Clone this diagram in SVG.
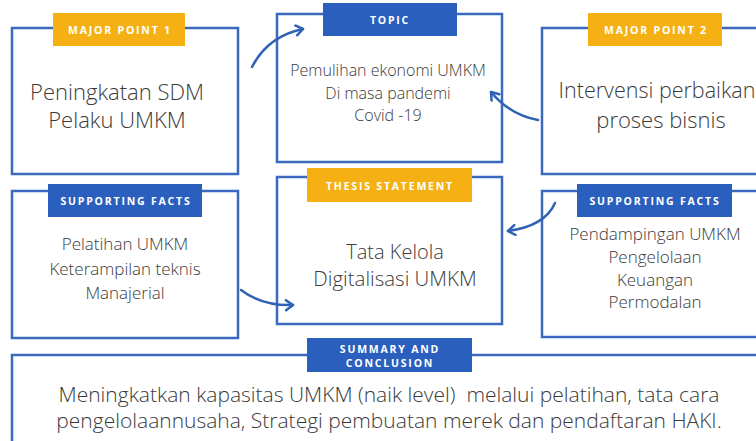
<svg xmlns="http://www.w3.org/2000/svg" width="756" height="441" viewBox="0 0 756 441">
<style>
.box{fill:#fff;stroke:#3a69bd;stroke-width:2.5}
.lb{fill:#2b5fbd}
.ly{fill:#f5b114}
.lt{font-family:"Open Sans","Liberation Sans",sans-serif;font-weight:700;font-size:10.5px;letter-spacing:1.8px;fill:#fff;text-anchor:middle}
.t{font-family:"Open Sans","Liberation Sans",sans-serif;font-weight:300;fill:#3a3a3a;text-anchor:middle}
.c{fill:none;stroke:#2f62b5;stroke-width:2.5;stroke-linecap:round}
</style>
<defs>
<marker id="ah" markerUnits="userSpaceOnUse" markerWidth="14" markerHeight="14" refX="10" refY="6" orient="auto">
<path d="M3,1 L10,6 L3,11" fill="none" stroke="#2f62b5" stroke-width="2.5" stroke-linecap="round" stroke-linejoin="round"/>
</marker>
</defs>
<rect width="756" height="441" fill="#fff"/>
<g id="major1">
<rect class="box" x="12" y="28" width="226" height="146"/>
<rect class="ly" x="53" y="13" width="132" height="33"/>
<text class="lt" x="120" y="34">MAJOR POINT 1</text>
<text class="t" x="117" y="100" font-size="22">Peningkatan SDM</text>
<text class="t" x="117" y="128" font-size="22">Pelaku UMKM</text>
</g>
<g id="topic">
<rect class="box" x="277" y="14" width="225" height="148"/>
<rect class="lb" x="323" y="3" width="134" height="33"/>
<text class="lt" x="390" y="24">TOPIC</text>
<text class="t" x="388" y="76" font-size="16">Pemulihan ekonomi UMKM</text>
<text class="t" x="388" y="99" font-size="16">Di masa pandemi</text>
<text class="t" x="388" y="121" font-size="16">Covid -19</text>
</g>
<g id="major2">
<rect class="box" x="542" y="28" width="230" height="146"/>
<rect class="ly" x="588" y="13" width="134" height="33"/>
<text class="lt" x="656" y="34">MAJOR POINT 2</text>
<text class="t" x="657" y="98" font-size="21.5">Intervensi perbaikan</text>
<text class="t" x="661" y="128" font-size="22">proses bisnis</text>
</g>
<g id="facts1">
<rect class="box" x="12" y="191" width="226" height="147"/>
<rect class="lb" x="48" y="184" width="154" height="33"/>
<text class="lt" x="126" y="205">SUPPORTING FACTS</text>
<text class="t" x="125" y="250" font-size="17">Pelatihan UMKM</text>
<text class="t" x="125" y="275" font-size="17">Keterampilan teknis</text>
<text class="t" x="125" y="299" font-size="17">Manajerial</text>
</g>
<g id="thesis">
<rect class="box" x="277" y="177" width="225" height="147"/>
<rect class="ly" x="307" y="168" width="165" height="34"/>
<text class="lt" x="390" y="190">THESIS STATEMENT</text>
<text class="t" x="395" y="259" font-size="20">Tata Kelola</text>
<text class="t" x="395" y="286" font-size="20.5">Digitalisasi UMKM</text>
</g>
<g id="facts2">
<rect class="box" x="542" y="191" width="230" height="146"/>
<rect class="lb" x="577" y="184" width="155" height="33"/>
<text class="lt" x="655" y="205">SUPPORTING FACTS</text>
<text class="t" x="655" y="240" font-size="17">Pendampingan UMKM</text>
<text class="t" x="655" y="263" font-size="17">Pengelolaan</text>
<text class="t" x="655" y="286" font-size="17">Keuangan</text>
<text class="t" x="655" y="308" font-size="17">Permodalan</text>
</g>
<g id="summary">
<rect class="box" x="12" y="355" width="760" height="100"/>
<rect class="lb" x="307" y="338" width="165" height="34"/>
<text class="lt" x="390" y="353">SUMMARY AND</text>
<text class="lt" x="390" y="367">CONCLUSION</text>
<text class="t" x="389" y="402" font-size="21" xml:space="preserve">Meningkatkan kapasitas UMKM (naik level)  melalui pelatihan, tata cara</text>
<text class="t" x="389" y="428" font-size="21">pengelolaannusaha, Strategi pembuatan merek dan pendaftaran HAKI.</text>
</g>
<g id="connectors">
<path class="c" d="M252,67 Q268,36 303,29" marker-end="url(#ah)"/>
<path class="c" d="M538,120 Q510,115 491,92" marker-end="url(#ah)"/>
<path class="c" d="M555,203 Q545,226 508,231" marker-end="url(#ah)"/>
<path class="c" d="M241,290 Q262,306 293,305" marker-end="url(#ah)"/>
</g>
</svg>
